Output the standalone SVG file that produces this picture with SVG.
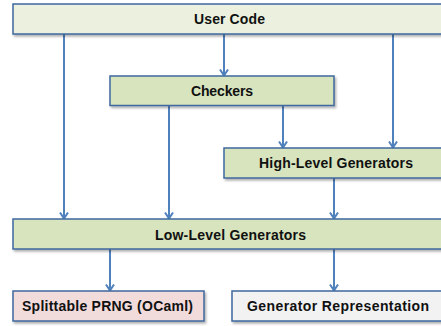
<svg xmlns="http://www.w3.org/2000/svg" width="441" height="326" viewBox="0 0 441 326">
<defs>
<style>
.box{stroke:#3f689e;stroke-width:1.5;filter:url(#sh)}
.lbl{font-family:"Liberation Sans",Arial,sans-serif;font-weight:bold;font-size:14px;fill:#111;text-anchor:middle}
.conn{stroke:#4f81bd;stroke-width:2;fill:none;marker-end:url(#arr)}
</style>
<filter id="sh" x="-5%" y="-20%" width="115%" height="160%">
<feDropShadow dx="1.5" dy="2" stdDeviation="1" flood-color="#000" flood-opacity="0.3"/>
</filter>
<marker id="arr" markerUnits="userSpaceOnUse" viewBox="0 0 10 10" refX="8.5" refY="5" markerWidth="10" markerHeight="10" orient="auto">
<path d="M2.5 1 L8.5 5 L2.5 9" fill="none" stroke="#4f81bd" stroke-width="2"/>
</marker>
</defs>
<rect width="441" height="326" fill="#fff"/>
<g id="connectors">
<line class="conn" x1="64" y1="34" x2="64" y2="218.5"/>
<line class="conn" x1="224" y1="34" x2="224" y2="75.5"/>
<line class="conn" x1="393" y1="34" x2="393" y2="147.5"/>
<line class="conn" x1="169" y1="106" x2="169" y2="218.5"/>
<line class="conn" x1="283" y1="106" x2="283" y2="147.5"/>
<line class="conn" x1="334" y1="178" x2="334" y2="218.5"/>
<line class="conn" x1="110" y1="249" x2="110" y2="290.5"/>
<line class="conn" x1="334" y1="249" x2="334" y2="290.5"/>
</g>
<g id="user-code">
<rect class="box" x="13" y="4" width="434" height="30" fill="#ebf1de"/>
<text class="lbl" x="229.5" y="24" textLength="71">User Code</text>
</g>
<g id="checkers">
<rect class="box" x="110" y="76" width="224" height="29.5" fill="#d7e4bd"/>
<text class="lbl" x="222" y="96" textLength="62">Checkers</text>
</g>
<g id="high-level">
<rect class="box" x="224" y="148" width="224" height="30" fill="#d7e4bd"/>
<text class="lbl" x="336" y="168" textLength="154">High-Level Generators</text>
</g>
<g id="low-level">
<rect class="box" x="13" y="219" width="434" height="30" fill="#d7e4bd"/>
<text class="lbl" x="230.5" y="239.5" textLength="151">Low-Level Generators</text>
</g>
<g id="prng">
<rect class="box" x="13" y="291" width="191" height="30" fill="#f2dcdb"/>
<text class="lbl" x="107.5" y="311" textLength="171">Splittable PRNG (OCaml)</text>
</g>
<g id="gen-repr">
<rect class="box" x="232" y="291" width="215" height="30" fill="#f2f2f2"/>
<text class="lbl" x="338" y="311" textLength="182">Generator Representation</text>
</g>
</svg>
